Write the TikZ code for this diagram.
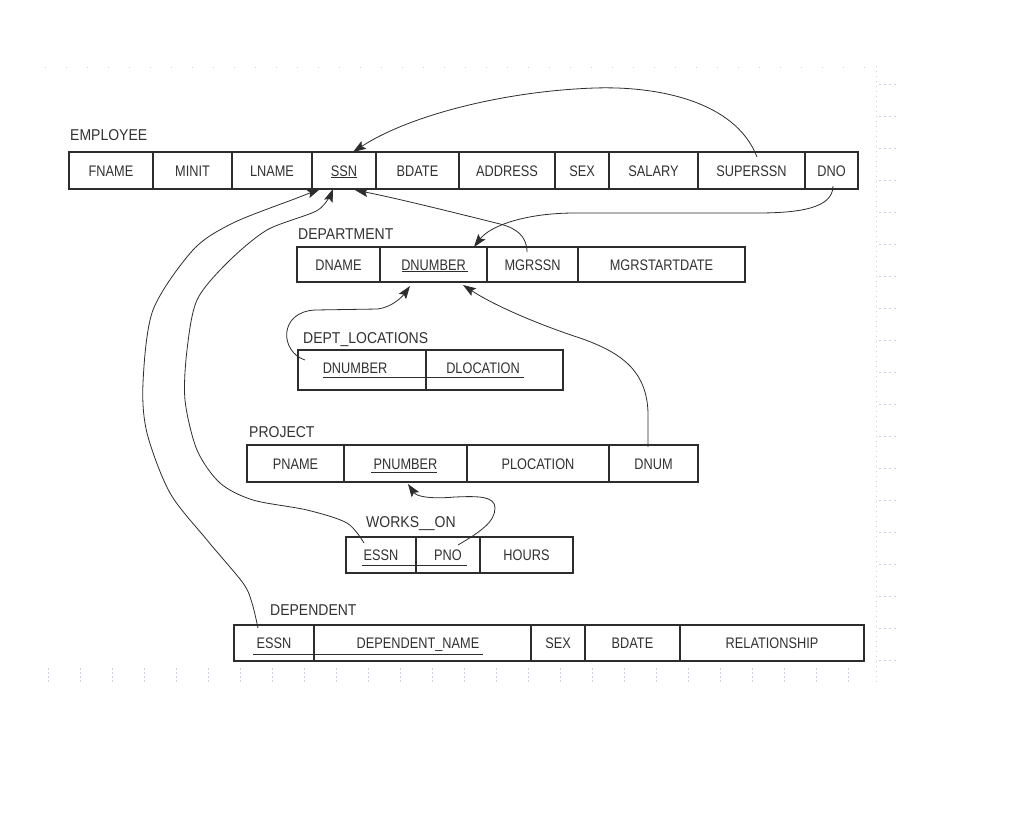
\documentclass[tikz,border=0pt]{standalone}
\usepackage{fontspec}
\usepackage{graphicx}
\setmainfont{Liberation Sans}
\usetikzlibrary{arrows.meta,calc}
\definecolor{ink}{RGB}{50,50,50}
\definecolor{edge}{RGB}{45,45,45}
\definecolor{bgdot}{RGB}{200,208,240}
\newcommand\tx[1]{\scalebox{1}[1.2]{#1}}
\newcommand\lx[1]{\scalebox{1}[1.12]{#1}}
\begin{document}
\begin{tikzpicture}[x=1pt,y=-1pt,
  cell/.style 2 args={draw=edge, line width=1.15pt, inner sep=0pt, outer sep=0pt,
    anchor=north west, minimum width=#1pt, minimum height=#2pt, text=ink,
    font=\fontsize{12.75}{14}\selectfont, text height=11pt, text depth=0pt},
  tname/.style={anchor=west, inner sep=0pt, text=ink,
    font=\fontsize{14}{16}\selectfont, text height=11.2pt, text depth=0pt},
  fk/.style={draw=edge, line width=0.8pt, -{Stealth[length=13pt,width=9pt,inset=2.5pt]}},
  uline/.style={draw=edge, line width=1pt},
  faint/.style={draw=bgdot, line width=0.6pt}]
\fill[white] (0,0) rectangle (1012,828);
\useasboundingbox (0,0) rectangle (1012,828);

% faint background marks
\draw[faint, dash pattern=on 1pt off 20pt] (45,67) -- (872,67);
\draw[faint, dash pattern=on 1pt off 4pt] (876,66) -- (876,684);
\foreach \y in {84,116,...,660} \draw[faint, dash pattern=on 2pt off 3pt] (879,\y) -- (898,\y);
\foreach \x in {48,80,...,870} \draw[faint, dash pattern=on 2pt off 2pt] (\x,668) -- (\x,684);

% EMPLOYEE
\node[tname] (lemp) at (70,135) {\lx{EMPLOYEE}};
\node[cell={84}{37}] (fname) at (69,152) {\tx{FNAME}};
\node[cell={79}{37}] (minit) at (153,152) {\tx{MINIT}};
\node[cell={80}{37}] (lname) at (232,152) {\tx{LNAME}};
\node[cell={64}{37}] (ssn) at (312,152) {\tx{SSN}};
\node[cell={83}{37}] (bdate) at (376,152) {\tx{BDATE}};
\node[cell={96}{37}] (address) at (459,152) {\tx{ADDRESS}};
\node[cell={54}{37}] (sex) at (555,152) {\tx{SEX}};
\node[cell={89}{37}] (salary) at (609,152) {\tx{SALARY}};
\node[cell={107}{37}] (superssn) at (698,152) {\tx{SUPERSSN}};
\node[cell={53}{37}] (dno) at (805,152) {\tx{DNO}};
\draw[uline] ($(ssn.center)+(-13,7)$) -- ($(ssn.center)+(13,7)$);

% DEPARTMENT
\node[tname] (ldep) at (298,234) {\lx{DEPARTMENT}};
\node[cell={83}{35}] (dname) at (297,247) {\tx{DNAME}};
\node[cell={107}{35}] (dnumber) at (380,247) {\tx{DNUMBER}};
\node[cell={91}{35}] (mgrssn) at (487,247) {\tx{MGRSSN}};
\node[cell={167}{35}] (mgrstart) at (578,247) {\tx{MGRSTARTDATE}};
\draw[uline] ($(dnumber.center)+(-31.5,7)$) -- ($(dnumber.center)+(34.5,7)$);

% DEPT_LOCATIONS
\node[tname] (ldl) at (303,338) {\lx{DEPT\_LOCATIONS}};
\node[cell={128}{40}, text depth=4pt] (dldn) at (298,350) {\hspace*{-14pt}\tx{DNUMBER}};
\node[cell={137}{40}, text depth=4pt] (dlloc) at (426,350) {\hspace*{-23pt}\tx{DLOCATION}};
\draw[uline] ($(dldn.center)+(-39,7)$) -- ($(dlloc.center)+(29.5,7)$);

% PROJECT
\node[tname] (lproj) at (249,432) {\lx{PROJECT}};
\node[cell={97}{37}] (pname) at (247,445) {\tx{PNAME}};
\node[cell={123}{37}] (pnumber) at (344,445) {\tx{PNUMBER}};
\node[cell={142}{37}] (plocation) at (467,445) {\tx{PLOCATION}};
\node[cell={89}{37}] (dnum) at (609,445) {\tx{DNUM}};
\draw[uline] ($(pnumber.center)+(-34.5,8.5)$) -- ($(pnumber.center)+(31.5,8.5)$);

% WORKS_ON
\node[tname] (lwo) at (366,522) {\lx{WORKS\_\_ON}};
\node[cell={70}{36}] (wessn) at (346,537) {\tx{ESSN}};
\node[cell={64}{36}] (pno) at (416,537) {\tx{PNO}};
\node[cell={93}{36}] (hours) at (480,537) {\tx{HOURS}};
\draw[uline] ($(wessn.center)+(-19,10)$) -- ($(pno.center)+(19,10)$);

% DEPENDENT
\node[tname] (ldpt) at (270,610) {\lx{DEPENDENT}};
\node[cell={80}{36}] (dessn) at (234,625) {\tx{ESSN}};
\node[cell={217}{36}] (depname) at (314,625) {\hspace*{-9pt}\tx{DEPENDENT\_NAME}};
\node[cell={54}{36}] (dsex) at (531,625) {\tx{SEX}};
\node[cell={95}{36}] (dbdate) at (585,625) {\tx{BDATE}};
\node[cell={184}{36}] (relation) at (680,625) {\tx{RELATIONSHIP}};
\draw[uline] ($(dessn.center)+(-21,11)$) -- ($(depname.center)+(60.5,11)$);

% connectors
\coordinate (s1) at ($(superssn.north)+(5.5,5)$);
\coordinate (t1) at ($(ssn.north)+(9,0)$);
\draw[fk] (s1) .. controls (735,100) and (655,86) .. (595,88)
  .. controls (505,91) and (410,115) .. (t1);

\coordinate (s2) at ($(dno.south)+(1.5,-3)$);
\coordinate (t2) at ($(dnumber.north)+(40.5,0)$);
\draw[fk] (s2) .. controls (833,208) and (800,213) .. (757,213) -- (575,213)
  .. controls (525,213) and (490,226) .. (t2);

\coordinate (s3) at ($(mgrssn.north)+(-5.5,5)$);
\coordinate (t3) at ($(ssn.south)+(11,1)$);
\draw[fk] (s3) .. controls (527,236) and (516,228) .. (500,224)
  .. controls (460,214) and (400,199) .. (t3);

\coordinate (s4) at ($(dessn.north)+(-16,3)$);
\coordinate (t4) at ($(ssn.south)+(-24,0)$);
\draw[fk] plot[smooth] coordinates {(s4) (252,603) (243,583) (207,540) (170,493)
  (147,433) (143,383) (153,310) (193,250) (233,223) (297,198) (t4)};

\coordinate (s5) at ($(wessn.north)+(-17,6)$);
\coordinate (t5) at ($(ssn.south)+(-11,0)$);
\draw[fk] plot[smooth] coordinates {(s5) (347,523) (307,510) (253,500) (220,483)
  (197,450) (185,400) (187,350) (197,300) (227,263) (267,230) (318,210) (t5)};

\coordinate (s6) at ($(dldn.north)+(-57,10)$);
\coordinate (t6) at ($(dnumber.south)+(-23.5,4)$);
\draw[fk] (s6) .. controls (280,352) and (278,312) .. (315,310) -- (378,309)
  .. controls (392,307) and (402,297) .. (t6);

\coordinate (s7) at ($(dnum.north)+(-5.5,2)$);
\coordinate (t7) at ($(dnumber.south)+(29.5,3)$);
\draw[fk] (s7) -- (648,413) .. controls (647,370) and (620,352) .. (580,338)
  .. controls (540,325) and (495,306) .. (t7);

\coordinate (s8) at ($(pno.north)+(10,8)$);
\coordinate (t8) at ($(pnumber.south)+(2.5,2)$);
\draw[fk] (s8) .. controls (480,532) and (495,522) .. (495,508)
  .. controls (495,496) and (478,496) .. (455,497)
  .. controls (432,499) and (417,497) .. (t8);
\end{tikzpicture}
\end{document}
